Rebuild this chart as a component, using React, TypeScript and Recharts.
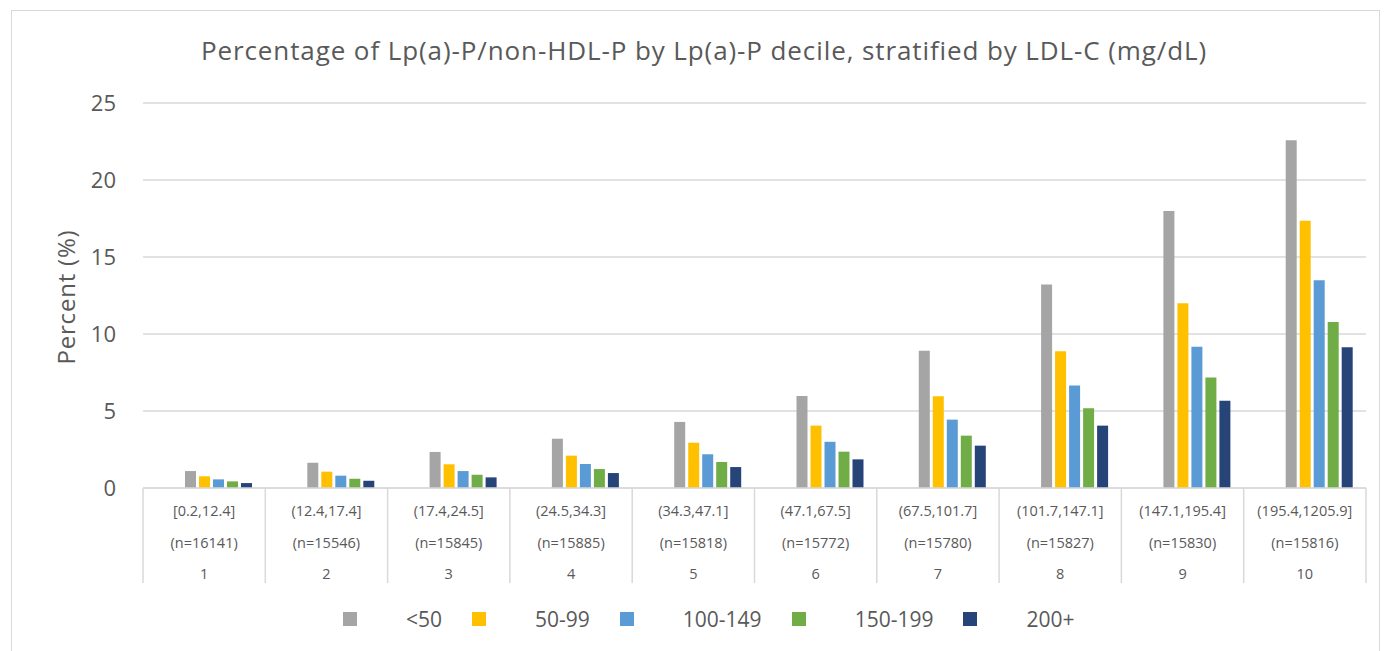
import { BarChart, Bar, XAxis, YAxis, CartesianGrid } from 'recharts';

const ranges = [
  '[0.2,12.4]',
  '(12.4,17.4]',
  '(17.4,24.5]',
  '(24.5,34.3]',
  '(34.3,47.1]',
  '(47.1,67.5]',
  '(67.5,101.7]',
  '(101.7,147.1]',
  '(147.1,195.4]',
  '(195.4,1205.9]',
];
const counts = [16141, 15546, 15845, 15885, 15818, 15772, 15780, 15827, 15830, 15816];
const deciles = ['1', '2', '3', '4', '5', '6', '7', '8', '9', '10'];

const ldlUnder50 = [1.1, 1.64, 2.34, 3.2, 4.29, 5.97, 8.92, 13.21, 17.99, 22.58];
const ldl50to99 = [0.76, 1.06, 1.54, 2.1, 2.94, 4.05, 5.95, 8.88, 11.99, 17.36];
const ldl100to149 = [0.56, 0.8, 1.1, 1.56, 2.19, 3.0, 4.44, 6.65, 9.18, 13.49];
const ldl150to199 = [0.43, 0.6, 0.86, 1.23, 1.69, 2.36, 3.4, 5.18, 7.17, 10.78];
const ldl200plus = [0.32, 0.47, 0.69, 0.97, 1.36, 1.86, 2.75, 4.05, 5.67, 9.14];

const yTicks = [0, 5, 10, 15, 20, 25];

const series = [
  { key: 'lt50', name: '<50', color: '#A5A5A5', values: ldlUnder50 },
  { key: 's50', name: '50-99', color: '#FFC000', values: ldl50to99 },
  { key: 's100', name: '100-149', color: '#5B9BD5', values: ldl100to149 },
  { key: 's150', name: '150-199', color: '#70AD47', values: ldl150to199 },
  { key: 's200', name: '200+', color: '#264478', values: ldl200plus },
];

const data = deciles.map((d, i) => {
  const row: Record<string, string | number> = { decile: d, range: ranges[i], n: counts[i] };
  series.forEach((s) => (row[s.key] = s.values[i]));
  return row;
});

const W = 1386;
const H = 651;
const PLOT_LEFT = 143;
const PLOT_RIGHT = 1366;
const BAND = (PLOT_RIGHT - PLOT_LEFT) / deciles.length;
const TEXT = '#595959';
const GRID = '#d9d9d9';
const FONT = '"Open Sans", "Noto Sans", sans-serif';

// three-row category cell: range, n, decile number, with table separators
function DecileTick(props: any) {
  const { x, y, payload } = props;
  const i = payload.index;
  const left = x - BAND / 2;
  return (
    <g>
      <line x1={left} x2={left} y1={y} y2={y + 95} stroke={GRID} strokeWidth={1.5} />
      {i === deciles.length - 1 && (
        <line x1={x + BAND / 2} x2={x + BAND / 2} y1={y} y2={y + 95} stroke={GRID} strokeWidth={1.5} />
      )}
      <text x={x} y={y + 22} textAnchor="middle" dominantBaseline="central" fill={TEXT} fontSize={14.5}>
        {ranges[i]}
      </text>
      <text x={x} y={y + 54} textAnchor="middle" dominantBaseline="central" fill={TEXT} fontSize={14.5}>
        (n={counts[i]})
      </text>
      <text x={x} y={y + 85} textAnchor="middle" dominantBaseline="central" fill={TEXT} fontSize={14.5}>
        {deciles[i]}
      </text>
    </g>
  );
}

export default function App() {
  return (
    <div
      style={{
        position: 'absolute',
        left: 0,
        top: 0,
        width: W,
        height: H,
        background: '#fff',
        fontFamily: FONT,
        overflow: 'hidden',
      }}
    >
      <div
        style={{
          position: 'absolute',
          left: 11,
          top: 10,
          width: 1367,
          height: 660,
          border: `1px solid ${GRID}`,
        }}
      />
      <div
        style={{
          position: 'absolute',
          left: 11,
          width: W,
          top: 32,
          textAlign: 'center',
          fontSize: 26,
          letterSpacing: 0.9,
          color: TEXT,
        }}
      >
        Percentage of Lp(a)-P/non-HDL-P by Lp(a)-P decile, stratified by LDL-C (mg/dL)
      </div>
      <div
        style={{
          position: 'absolute',
          left: 65,
          top: 297,
          transform: 'translate(-50%, -50%) rotate(-90deg)',
          fontSize: 24,
          letterSpacing: 0.8,
          color: TEXT,
          whiteSpace: 'nowrap',
        }}
      >
        Percent (%)
      </div>
      <div style={{ position: 'absolute', left: 0, top: 0 }}>
        <BarChart
          width={W}
          height={H}
          data={data}
          margin={{ top: 103, right: W - PLOT_RIGHT, bottom: 63, left: PLOT_LEFT - 60 }}
          barSize={11}
          barGap={3}
        >
          <CartesianGrid vertical={false} stroke={GRID} strokeWidth={1.5} />
          <XAxis
            dataKey="decile"
            interval={0}
            height={100}
            tickSize={0}
            tickMargin={0}
            tickLine={false}
            axisLine={{ stroke: GRID, strokeWidth: 1.5 }}
            tick={<DecileTick />}
          />
          <YAxis
            width={60}
            domain={[0, 25]}
            ticks={yTicks}
            axisLine={false}
            tickLine={false}
            tickMargin={21}
            tick={{ fill: TEXT, fontSize: 22, fontFamily: FONT }}
          />
          {/* empty leading slots: Excel shifted each cluster right by two bar widths */}
          <Bar dataKey="pad1" fill="transparent" legendType="none" isAnimationActive={false} />
          <Bar dataKey="pad2" fill="transparent" legendType="none" isAnimationActive={false} />
          {series.map((s) => (
            <Bar key={s.key} dataKey={s.key} name={s.name} fill={s.color} isAnimationActive={false} />
          ))}
        </BarChart>
      </div>
      <div
        style={{
          position: 'absolute',
          top: 605,
          left: 343,
          display: 'flex',
          alignItems: 'center',
          fontSize: 21,
          color: TEXT,
        }}
      >
        {series.map((s) => (
          <div key={s.key} style={{ display: 'flex', alignItems: 'center', marginRight: 30 }}>
            <span style={{ width: 14, height: 14, background: s.color, display: 'inline-block', marginRight: 49 }} />
            <span style={{ lineHeight: '28px' }}>{s.name}</span>
          </div>
        ))}
      </div>
    </div>
  );
}
